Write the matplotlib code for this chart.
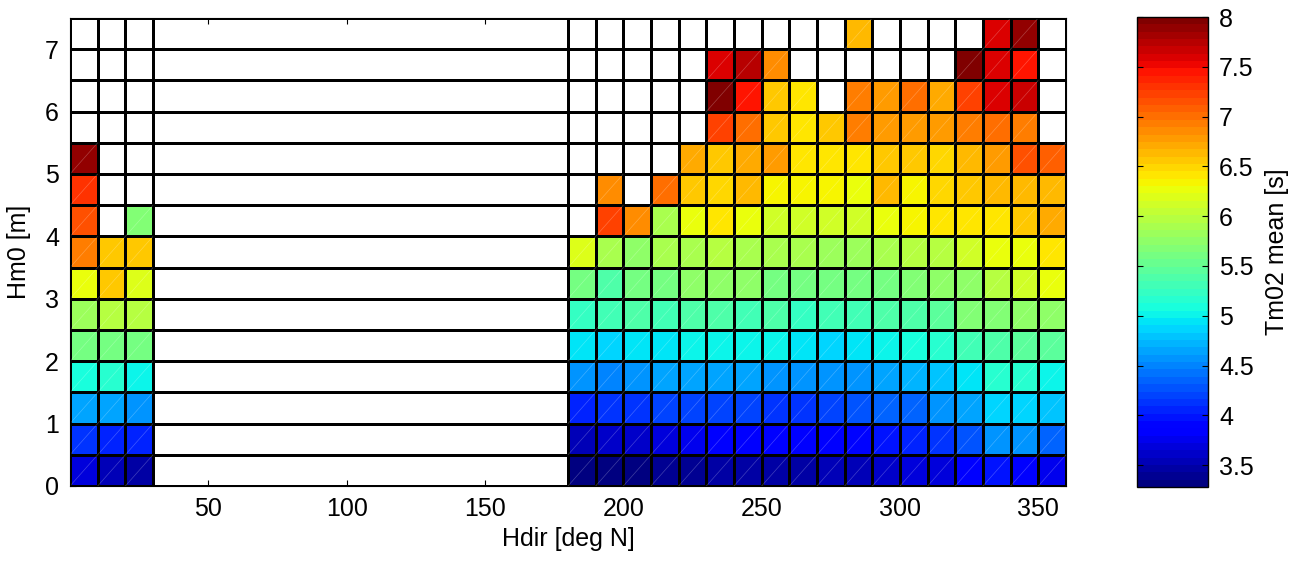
import numpy as np
import matplotlib.pyplot as plt
from matplotlib.collections import LineCollection
from matplotlib.ticker import FuncFormatter

plt.rcParams["font.family"] = ["Liberation Sans", "DejaVu Sans"]
plt.rcParams["font.size"] = 18


# =====================================================
# DATA
# =====================================================

nan = np.nan

# direction bin edges [deg N] -> 0-30 and 180-360, no data in between
hdir_left = [0, 10, 20, 30]
hdir_right = [180, 190, 200, 210, 220, 230, 240, 250, 260, 270,
              280, 290, 300, 310, 320, 330, 340, 350, 360]

# wave height bin edges [m]
hm0_edges = [0.0, 0.5, 1.0, 1.5, 2.0, 2.5, 3.0, 3.5,
             4.0, 4.5, 5.0, 5.5, 6.0, 6.5, 7.0, 7.5]

# mean Tm02 [s], one row per Hm0 bin (bottom to top), columns 0-30 deg
tm02_left = [
    [3.66, 3.54, 3.47],
    [4.16, 4.02, 4.05],
    [4.61, 4.61, 4.54],
    [5.12, 5.13, 5.05],
    [5.57, 5.60, 5.60],
    [5.86, 6.00, 6.00],
    [6.30, 6.55, 6.19],
    [6.96, 6.55, 6.55],
    [7.12, nan, 5.71],
    [7.33, nan, nan],
    [7.88, nan, nan],
    [nan, nan, nan],
    [nan, nan, nan],
    [nan, nan, nan],
    [nan, nan, nan],
]

# mean Tm02 [s], columns 180-360 deg
tm02_right = [
    [3.28, 3.31, 3.34, 3.37, 3.37, 3.43, 3.46, 3.46, 3.50,
     3.54, 3.57, 3.60, 3.67, 3.72, 3.84, 3.95, 3.84, 3.75],
    [3.57, 3.60, 3.63, 3.72, 3.75, 3.80, 3.80, 3.80, 3.84,
     3.80, 3.87, 3.95, 4.02, 4.16, 4.31, 4.54, 4.54, 4.38],
    [4.02, 4.13, 4.13, 4.20, 4.20, 4.20, 4.20, 4.16, 4.16,
     4.23, 4.31, 4.34, 4.34, 4.54, 4.61, 4.83, 4.87, 4.80],
    [4.54, 4.46, 4.57, 4.61, 4.61, 4.61, 4.61, 4.57, 4.54,
     4.54, 4.57, 4.65, 4.69, 4.79, 4.94, 5.18, 5.18, 5.05],
    [4.94, 4.89, 4.94, 4.94, 5.05, 5.05, 4.98, 4.98, 4.91,
     4.89, 4.94, 4.98, 5.12, 5.18, 5.30, 5.40, 5.48, 5.44],
    [5.27, 5.34, 5.37, 5.34, 5.40, 5.37, 5.34, 5.37, 5.27,
     5.30, 5.34, 5.37, 5.40, 5.44, 5.67, 5.67, 5.78, 5.78],
    [5.64, 5.40, 5.57, 5.64, 5.72, 5.72, 5.72, 5.60, 5.64,
     5.57, 5.64, 5.64, 5.67, 5.75, 5.78, 6.00, 6.09, 6.23],
    [6.17, 5.87, 5.78, 5.93, 5.93, 5.96, 5.93, 5.93, 5.90,
     5.82, 5.82, 5.87, 5.96, 6.00, 6.12, 6.23, 6.30, 6.41],
    [nan, 7.25, 6.82, 5.90, 6.23, 6.41, 6.23, 6.12, 6.12,
     6.09, 6.12, 6.23, 6.37, 6.41, 6.41, 6.41, 6.59, 6.74],
    [nan, 6.82, nan, 7.04, 6.59, 6.52, 6.62, 6.33, 6.33,
     6.37, 6.23, 6.62, 6.33, 6.48, 6.59, 6.62, 6.67, 6.67],
    [nan, nan, nan, nan, 6.74, 6.59, 6.71, 6.79, 6.41,
     6.41, 6.45, 6.59, 6.59, 6.52, 6.62, 6.79, 7.12, 7.08],
    [nan, nan, nan, nan, nan, 7.25, 7.04, 6.59, 6.45,
     6.59, 6.96, 6.79, 6.79, 6.79, 6.96, 7.04, 6.96, nan],
    [nan, nan, nan, nan, nan, 8.00, 7.41, 6.59, 6.45,
     nan, 6.96, 6.79, 7.04, 6.74, 7.25, 7.56, 7.70, nan],
    [nan, nan, nan, nan, nan, 7.63, 7.72, 6.82, nan,
     nan, nan, nan, nan, nan, 7.96, 7.63, 7.41, nan],
    [nan, nan, nan, nan, nan, nan, nan, nan, nan,
     nan, 6.67, nan, nan, nan, nan, 7.60, 7.86, nan],
]


# =====================================================
# GRID
# =====================================================

x_edges = np.array(hdir_left + hdir_right, dtype=float)
y_edges = np.array(hm0_edges)

# the 30-180 gap is one empty cell
C = np.hstack([
    np.array(tm02_left),
    np.full((len(tm02_left), 1), nan),
    np.array(tm02_right),
])
C = np.ma.masked_invalid(C)

cmap = plt.get_cmap("jet", 64).copy()
cmap.set_bad("white")


# =====================================================
# PLOT
# =====================================================

fig = plt.figure(figsize=(13.06, 5.63), dpi=100)
ax = fig.add_axes([0.0536, 0.1368, 0.7626, 0.8313])

mesh = ax.pcolormesh(
    x_edges, y_edges, C,
    cmap=cmap,
    edgecolors="black",
    linewidth=0.85
)

# faint triangle seams like the original renderer
segs = []
for j in range(C.shape[0]):
    for i in range(C.shape[1]):
        if not np.ma.is_masked(C[j, i]):
            segs.append([(x_edges[i], y_edges[j]),
                         (x_edges[i + 1], y_edges[j + 1])])

ax.add_collection(
    LineCollection(segs, colors=[(1, 1, 1, 0.25)], linewidths=0.5)
)

ax.set_xlim(0, 360)
ax.set_ylim(0, 7.5)
ax.set_xticks([50, 100, 150, 200, 250, 300, 350])
ax.set_yticks([0, 1, 2, 3, 4, 5, 6, 7])

ax.tick_params(
    direction="in",
    top=True,
    right=True,
    length=4,
    width=0.8,
    pad=8
)

ax.set_xlabel("Hdir [deg N]", labelpad=4)
ax.set_ylabel("Hm0 [m]", labelpad=10)


# =====================================================
# COLORBAR
# =====================================================

cax = fig.add_axes([0.8706, 0.135, 0.0544, 0.8348])
cb = fig.colorbar(mesh, cax=cax)

cb.set_ticks([3.5, 4, 4.5, 5, 5.5, 6, 6.5, 7, 7.5, 8])
cb.ax.yaxis.set_major_formatter(FuncFormatter(lambda v, p: f"{v:g}"))
cb.ax.tick_params(
    direction="in",
    left=True,
    right=True,
    length=4,
    width=0.8,
    pad=8
)
cb.outline.set_linewidth(1.0)
cb.set_label("Tm02 mean [s]", labelpad=8)

fig.savefig("out.png", dpi=100)
